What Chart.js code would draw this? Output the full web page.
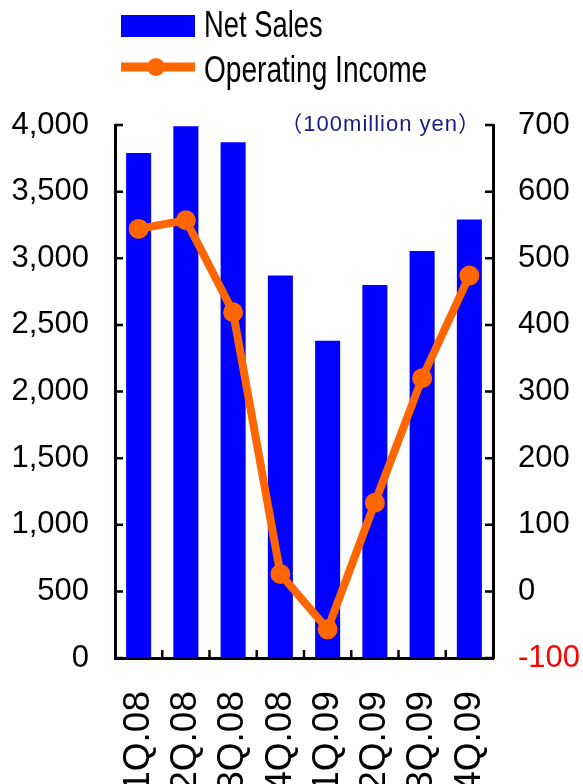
<!DOCTYPE html>
<html>
<head>
<meta charset="utf-8">
<script src="https://cdn.jsdelivr.net/npm/chart.js@4.4.0/dist/chart.umd.min.js"></script>
<style>
  html, body { margin: 0; padding: 0; background: #fff; overflow: hidden; }
  #wrap { width: 583px; height: 784px; }
</style>
</head>
<body>
<div id="wrap"><canvas id="salesChart" width="583" height="784"></canvas></div>
<script>
/* ── data ─────────────────────────────────────────────── */
const QUARTERS   = ['1Q.08', '2Q.08', '3Q.08', '4Q.08', '1Q.09', '2Q.09', '3Q.09', '4Q.09'];
const NET_SALES  = [3790, 3990, 3870, 2870, 2380, 2800, 3055, 3290];
const OP_INCOME  = [544, 557, 419, 26, -57, 133, 320, 474];
const UNIT_LABEL = '（100million yen）';

const COLORS = {
  bar:   '#0000ff',
  line:  '#ff6600',
  axis:  '#000000',
  neg:   '#ff0000',
  unit:  '#1a1a80',
};

const SANS = "'Liberation Sans', Arial, sans-serif";

// draws text squeezed horizontally (the original uses a condensed face)
function narrowText(ctx, text, x, y, sx) {
  ctx.save();
  ctx.translate(x, y);
  ctx.scale(sx, 1);
  ctx.fillText(text, 0, 0);
  ctx.restore();
}

// ── helper: inward tick marks + legend + unit label ─────
const decorPlugin = {
  id: 'decor',
  afterDraw(chart) {
    const { ctx, chartArea: a, scales } = chart;
    ctx.save();
    ctx.strokeStyle = COLORS.axis;
    ctx.lineWidth = 2.5;
    ctx.beginPath();
    scales.y.ticks.forEach(t => {
      const py = scales.y.getPixelForValue(t.value);
      ctx.moveTo(a.left, py); ctx.lineTo(a.left + 8, py);
    });
    scales.y1.ticks.forEach(t => {
      const py = scales.y1.getPixelForValue(t.value);
      ctx.moveTo(a.right, py); ctx.lineTo(a.right - 8, py);
    });
    for (let i = 0; i < QUARTERS.length - 1; i++) {
      const px = (scales.x.getPixelForValue(i) + scales.x.getPixelForValue(i + 1)) / 2;
      ctx.moveTo(px, a.bottom); ctx.lineTo(px, a.bottom - 8);
    }
    ctx.stroke();

    // legend
    const ds = chart.data.datasets;
    const bar = ds.find(d => d.type === 'bar');
    const line = ds.find(d => d.type === 'line');
    ctx.fillStyle = bar.backgroundColor;
    ctx.fillRect(121, 15, 74, 22);
    ctx.strokeStyle = line.borderColor;
    ctx.lineWidth = 9;
    ctx.beginPath(); ctx.moveTo(121, 67); ctx.lineTo(195, 67); ctx.stroke();
    ctx.fillStyle = line.borderColor;
    ctx.beginPath(); ctx.arc(156, 67, 9, 0, Math.PI * 2); ctx.fill();

    ctx.fillStyle = '#000';
    ctx.font = `36px ${SANS}`;
    ctx.textAlign = 'left';
    ctx.textBaseline = 'alphabetic';
    narrowText(ctx, bar.label, 204, 37, 0.76);
    narrowText(ctx, line.label, 204, 82, 0.78);

    // unit
    ctx.fillStyle = COLORS.unit;
    ctx.font = "22px 'Liberation Sans', 'Noto Sans CJK JP', sans-serif";
    ctx.letterSpacing = '1px';
    ctx.textAlign = 'right';
    ctx.fillText(UNIT_LABEL, 481, 131);
    ctx.restore();
  },
};

const ctx = document.getElementById('salesChart');
new Chart(ctx, {
  data: {
    labels: QUARTERS,
    datasets: [
      {
        type: 'line',
        label: 'Operating Income',
        data: OP_INCOME,
        yAxisID: 'y1',
        borderColor: COLORS.line,
        backgroundColor: COLORS.line,
        borderWidth: 8,
        pointRadius: 10,
        pointBorderWidth: 0,
        pointBackgroundColor: COLORS.line,
        tension: 0,
        order: 0,
      },
      {
        type: 'bar',
        label: 'Net Sales',
        data: NET_SALES,
        yAxisID: 'y',
        backgroundColor: COLORS.bar,
        barPercentage: 0.53,
        categoryPercentage: 1,
        order: 1,
      },
    ],
  },
  options: {
    responsive: false,
    animation: false,
    devicePixelRatio: 1,
    layout: { padding: { top: 125, left: 0, right: 0, bottom: 0 } },
    plugins: { legend: { display: false }, tooltip: { enabled: false } },
    scales: {
      x: {
        grid: { display: false, drawTicks: false },
        border: { display: true, color: COLORS.axis, width: 3 },
        ticks: {
          autoSkip: false, minRotation: 90, maxRotation: 90, padding: 33,
          color: '#000', font: { family: SANS, size: 37 },
        },
        afterFit: s => { s.height = 126; },
      },
      y: {
        position: 'left',
        min: 0, max: 4000,
        grid: { display: false, drawTicks: false },
        border: { display: true, color: COLORS.axis, width: 3 },
        ticks: {
          stepSize: 500, padding: 26, color: '#000',
          font: { family: SANS, size: 31 },
          callback: v => v.toLocaleString('en-US'),
        },
        afterFit: s => { s.width = 115; },
      },
      y1: {
        position: 'right',
        min: -100, max: 700,
        grid: { display: false, drawTicks: false },
        border: { display: true, color: COLORS.axis, width: 3 },
        ticks: {
          stepSize: 100, padding: 25,
          color: c => c.tick && c.tick.value < 0 ? COLORS.neg : '#000',
          font: { family: SANS, size: 31 },
        },
        afterFit: s => { s.width = 90; },
      },
    },
  },
  plugins: [decorPlugin],
});
</script>
</body>
</html>
